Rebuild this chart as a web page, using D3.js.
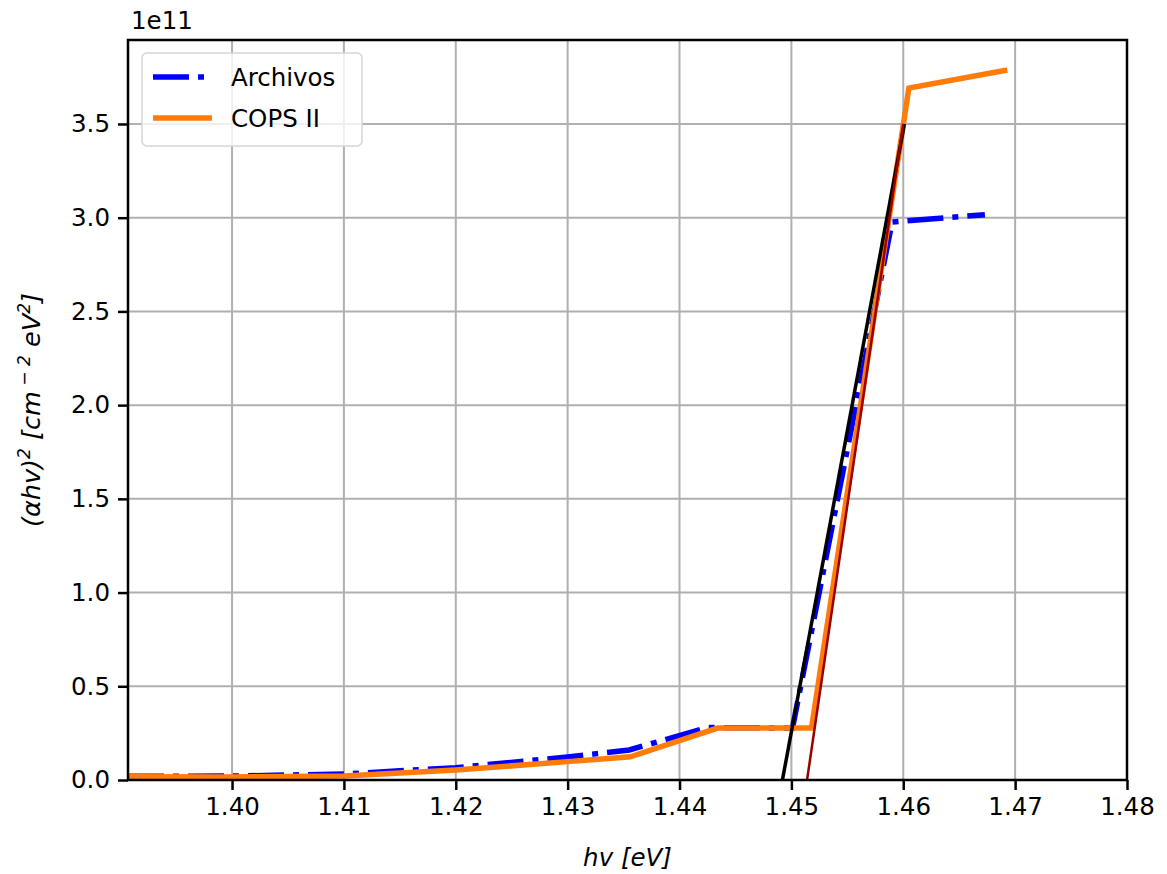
<!DOCTYPE html>
<html>
<head>
<meta charset="utf-8">
<script src="https://cdn.jsdelivr.net/npm/d3@7"></script>
<style>
  html, body { margin: 0; padding: 0; background: #fff; }
  svg { display: block; font-family: "DejaVu Sans", sans-serif; }
</style>
</head>
<body>
<svg id="chart" width="1167" height="874"></svg>
<script>
// Photon energy (eV) and (alpha*h*nu)^2 values for each measurement set
const archivosX = [1.3907, 1.400, 1.410, 1.420, 1.430, 1.4355, 1.4425, 1.4501, 1.4590, 1.4673];
const archivosY = [0.020e11, 0.021e11, 0.032e11, 0.066e11, 0.123e11, 0.160e11, 0.280e11, 0.277e11, 2.977e11, 3.016e11];

const copsX = [1.3907, 1.400, 1.410, 1.420, 1.430, 1.4356, 1.4434, 1.4518, 1.4605, 1.4693];
const copsY = [0.018e11, 0.016e11, 0.021e11, 0.053e11, 0.098e11, 0.124e11, 0.277e11, 0.277e11, 3.692e11, 3.788e11];

// Linear fits of the absorption edge (x-intercept gives the band gap)
const fitArchivosX = [1.4492, 1.4601];
const fitArchivosY = [0, 3.5e11];
const fitCopsX = [1.4514, 1.4600];
const fitCopsY = [0, 3.5e11];

const xTicks = [1.40, 1.41, 1.42, 1.43, 1.44, 1.45, 1.46, 1.47, 1.48];
const yTicks = [0, 0.5e11, 1.0e11, 1.5e11, 2.0e11, 2.5e11, 3.0e11, 3.5e11];
const seriesNames = ["Archivos", "COPS II"];

const svg = d3.select("#chart");
const plot = { left: 128, right: 1127, top: 40, bottom: 780 };

const x = d3.scaleLinear().domain([1.3907, 1.48]).range([plot.left, plot.right]);
const y = d3.scaleLinear().domain([0, 3.948e11]).range([plot.bottom, plot.top]);

const FS = 24.5;

svg.append("defs").append("clipPath").attr("id", "plotclip")
  .append("rect")
  .attr("x", plot.left).attr("y", plot.top)
  .attr("width", plot.right - plot.left).attr("height", plot.bottom - plot.top);

// Grid
const grid = svg.append("g");
grid.selectAll(".gx").data(xTicks).join("line")
  .attr("x1", d => x(d)).attr("x2", d => x(d))
  .attr("y1", plot.top).attr("y2", plot.bottom)
  .attr("stroke", "#b0b0b0").attr("stroke-width", 2);
grid.selectAll(".gy").data(yTicks).join("line")
  .attr("x1", plot.left).attr("x2", plot.right)
  .attr("y1", d => y(d)).attr("y2", d => y(d))
  .attr("stroke", "#b0b0b0").attr("stroke-width", 2);

// Axes
const xAxis = d3.axisBottom(x).tickValues(xTicks).tickSize(10).tickPadding(8)
  .tickFormat(d3.format(".2f"));
const yAxis = d3.axisLeft(y).tickValues(yTicks).tickSize(10).tickPadding(8)
  .tickFormat(d => d3.format(".1f")(d / 1e11));

const gx = svg.append("g").attr("transform", `translate(0,${plot.bottom})`).call(xAxis);
const gy = svg.append("g").attr("transform", `translate(${plot.left},0)`).call(yAxis);
[gx, gy].forEach(g => {
  g.select(".domain").remove();
  g.selectAll(".tick line").attr("stroke", "#000").attr("stroke-width", 2.5);
  g.selectAll(".tick text").attr("font-size", FS).attr("fill", "#000")
    .attr("font-family", "DejaVu Sans, sans-serif");
});

// Data lines
const lines = svg.append("g").attr("clip-path", "url(#plotclip)");
const lineGen = d3.line().x(d => x(d[0])).y(d => y(d[1]));
const zip = (a, b) => a.map((v, i) => [v, b[i]]);

lines.append("path").datum(zip(archivosX, archivosY))
  .attr("d", lineGen).attr("fill", "none")
  .attr("stroke", "#0000ff").attr("stroke-width", 5.5)
  .attr("stroke-dasharray", "36 9 6 9");

lines.append("path").datum(zip(copsX, copsY))
  .attr("d", lineGen).attr("fill", "none")
  .attr("stroke", "#ff7b0a").attr("stroke-width", 5.5)
  .attr("stroke-linejoin", "miter");

lines.append("path").datum(zip(fitArchivosX, fitArchivosY))
  .attr("d", lineGen).attr("fill", "none")
  .attr("stroke", "#000").attr("stroke-width", 3.5);

lines.append("path").datum(zip(fitCopsX, fitCopsY))
  .attr("d", lineGen).attr("fill", "none")
  .attr("stroke", "#990000").attr("stroke-width", 2.5);

// Frame
svg.append("rect")
  .attr("x", plot.left).attr("y", plot.top)
  .attr("width", plot.right - plot.left).attr("height", plot.bottom - plot.top)
  .attr("fill", "none").attr("stroke", "#000").attr("stroke-width", 2.5);

// Offset label
svg.append("text").attr("x", plot.left + 3).attr("y", 29)
  .attr("font-size", FS).text("1e11");

// X axis label
const xl = svg.append("text").attr("x", (plot.left + plot.right) / 2).attr("y", 866)
  .attr("text-anchor", "middle").attr("font-size", FS).attr("font-style", "italic");
xl.append("tspan").text("hv [eV]");

// Y axis label
const yl = svg.append("text")
  .attr("transform", `translate(40,${(plot.top + plot.bottom) / 2}) rotate(-90)`)
  .attr("text-anchor", "middle").attr("font-size", FS + 1).attr("font-style", "italic");
yl.append("tspan").text("(αhv)");
yl.append("tspan").attr("dy", -10).attr("font-size", FS * 0.7).text("2");
yl.append("tspan").attr("dy", 10).text(" [cm");
yl.append("tspan").attr("dy", -10).attr("font-size", FS * 0.7).text(" − ");
yl.append("tspan").attr("font-size", FS * 0.7).text(" 2");
yl.append("tspan").attr("dy", 10).text(" eV");
yl.append("tspan").attr("dy", -10).attr("font-size", FS * 0.7).text("2");
yl.append("tspan").attr("dy", 10).text("]");

// Legend
const legend = svg.append("g");
legend.append("rect")
  .attr("x", 142).attr("y", 53).attr("width", 220).attr("height", 93).attr("rx", 5)
  .attr("fill", "#fff").attr("fill-opacity", 0.8)
  .attr("stroke", "#d6d6d6").attr("stroke-width", 1.5);
const legendStyles = [
  { color: "#0000ff", dash: "36 9 6 9", y: 77 },
  { color: "#ff7b0a", dash: null, y: 118 }
];
seriesNames.forEach((name, i) => {
  const s = legendStyles[i];
  legend.append("line")
    .attr("x1", 153).attr("x2", 212).attr("y1", s.y).attr("y2", s.y)
    .attr("stroke", s.color).attr("stroke-width", 5.5)
    .attr("stroke-dasharray", s.dash);
  legend.append("text").attr("x", 231).attr("y", s.y + 9)
    .attr("font-size", FS).text(name);
});
</script>
</body>
</html>
